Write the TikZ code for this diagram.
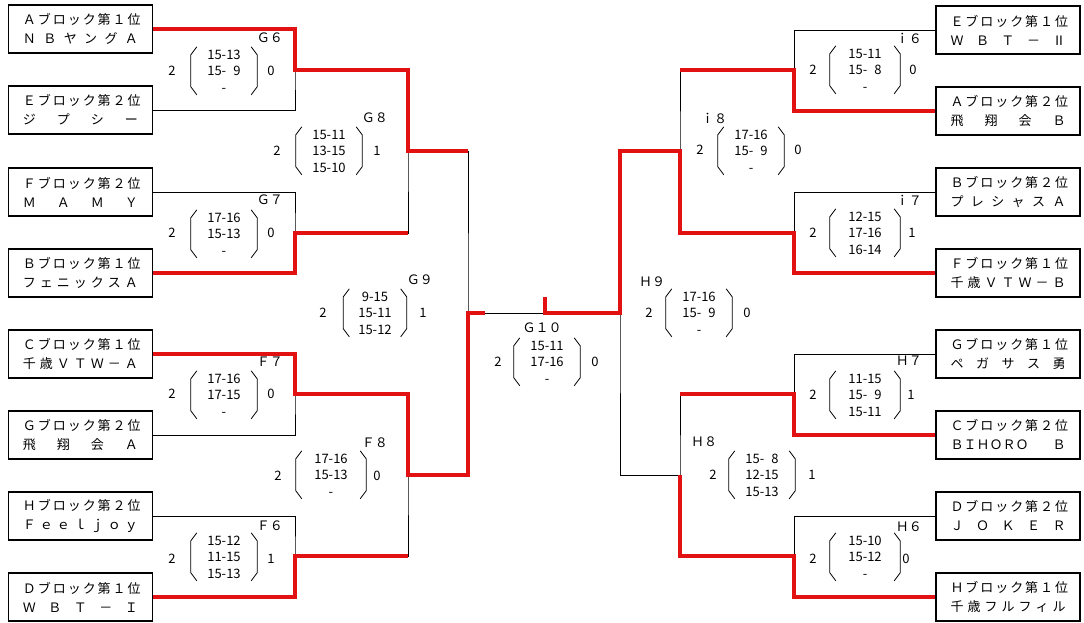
\documentclass[tikz,border=0pt]{standalone}
\usepackage{fontspec}
\setmainfont{Noto Sans CJK JP}
\usetikzlibrary{calc}
\definecolor{winred}{RGB}{226,18,18}
\newcommand{\spread}[1]{\makebox[115pt][s]{#1}}

\begin{document}
\begin{tikzpicture}[x=1pt, y=-1pt, every node/.style={inner sep=0pt},
    team/.style={draw, line width=1.1pt, minimum width=144pt, minimum height=48pt, align=left, font=\fontsize{13}{19}\selectfont},
    lose/.style={line width=0.9pt},
    win/.style={line width=3.8pt, winred},
    scores/.style={minimum width=68pt, minimum height=48pt, align=center, font=\fontsize{13}{16.5}\selectfont},
    paren/.style={line width=0.8pt},
    num/.style={font=\fontsize{13}{13}\selectfont},
    match/.style={font=\fontsize{13}{13}\selectfont}]
            \useasboundingbox (0,0) rectangle (1084,623);

            % left teams
            \node[team] (a1) at (80.5,29)  {\spread{Ａ ブ ロ ッ ク 第 １ 位}\\\spread{Ｎ Ｂ ヤ ン グ Ａ}};
            \node[team] (e2) at (80.5,110) {\spread{Ｅ ブ ロ ッ ク 第 ２ 位}\\\spread{ジ プ シ ー}};
            \node[team] (f2) at (80.5,192) {\spread{Ｆ ブ ロ ッ ク 第 ２ 位}\\\spread{Ｍ Ａ Ｍ Ｙ}};
            \node[team] (b1) at (80.5,273) {\spread{Ｂ ブ ロ ッ ク 第 １ 位}\\\spread{フ ェ ニ ッ ク ス Ａ}};
            \node[team] (c1) at (80.5,354) {\spread{Ｃ ブ ロ ッ ク 第 １ 位}\\\spread{千 歳 Ｖ Ｔ Ｗ － Ａ}};
            \node[team] (g2) at (80.5,435) {\spread{Ｇ ブ ロ ッ ク 第 ２ 位}\\\spread{飛 翔 会 Ａ}};
            \node[team] (h2) at (80.5,516) {\spread{Ｈ ブ ロ ッ ク 第 ２ 位}\\\spread{Ｆ ｅ ｅ ｌ ｊ ｏ ｙ}};
            \node[team] (d1) at (80.5,597) {\spread{Ｄ ブ ロ ッ ク 第 １ 位}\\\spread{Ｗ Ｂ Ｔ － Ｉ}};

            % right teams
            \node[team] (e1) at (1008,30)  {\spread{Ｅ ブ ロ ッ ク 第 １ 位}\\\spread{Ｗ Ｂ Ｔ － Ⅱ}};
            \node[team] (a2) at (1008,111) {\spread{Ａ ブ ロ ッ ク 第 ２ 位}\\\spread{飛 翔 会 Ｂ}};
            \node[team] (b2) at (1008,192) {\spread{Ｂ ブ ロ ッ ク 第 ２ 位}\\\spread{プ レ シ ャ ス Ａ}};
            \node[team] (f1) at (1008,273) {\spread{Ｆ ブ ロ ッ ク 第 １ 位}\\\spread{千 歳 Ｖ Ｔ Ｗ － Ｂ}};
            \node[team] (g1) at (1008,354) {\spread{Ｇ ブ ロ ッ ク 第 １ 位}\\\spread{ペ ガ サ ス 勇}};
            \node[team] (c2) at (1008,435) {\spread{Ｃ ブ ロ ッ ク 第 ２ 位}\\\spread{ＢＩＨＯＲＯ Ｂ}};
            \node[team] (d2) at (1008,516) {\spread{Ｄ ブ ロ ッ ク 第 ２ 位}\\\spread{Ｊ Ｏ Ｋ Ｅ Ｒ}};
            \node[team] (h1) at (1008,597) {\spread{Ｈ ブ ロ ッ ク 第 １ 位}\\\spread{千 歳 フ ル フ ィ ル}};

            % bracket joints
            \coordinate (g6) at (295,70);
            \coordinate (g7) at (295,233);
            \coordinate (f7) at (295,394);
            \coordinate (f6) at (295,556);
            \coordinate (g8) at (408,151);
            \coordinate (f8) at (408,475);
            \coordinate (g9) at (468,313);
            \coordinate (i6) at (794,70);
            \coordinate (i7) at (794,233);
            \coordinate (h7) at (794,394);
            \coordinate (h6) at (794,556);
            \coordinate (i8) at (680,151);
            \coordinate (h8) at (680,475);
            \coordinate (h9) at (620,313);
            \coordinate (g10) at (545,313);
            \coordinate (cup) at (545,297);

            \draw[lose] (a1.east) -| (g6) |- (e2.east);
            \draw[lose] (f2.east) -| (g7) |- (b1.east);
            \draw[lose] (c1.east) -| (f7) |- (g2.east);
            \draw[lose] (h2.east) -| (f6) |- (d1.east);
            \draw[lose] (g6) -| (g8) |- (g7);
            \draw[lose] (f7) -| (f8) |- (f6);
            \draw[lose] (g8) -| (g9) |- (f8);
            \draw[lose] (e1.west) -| (i6) |- (a2.west);
            \draw[lose] (b2.west) -| (i7) |- (f1.west);
            \draw[lose] (g1.west) -| (h7) |- (c2.west);
            \draw[lose] (d2.west) -| (h6) |- (h1.west);
            \draw[lose] (i6) -| (i8) |- (i7);
            \draw[lose] (h7) -| (h8) |- (h6);
            \draw[lose] (i8) -| (h9) |- (h8);
            \draw[lose] (g9) -- (h9);

            % winners
            \draw[win] (a1.east) -| (g6) -| (g8) -- (g8 -| g9);
            \draw[win] (b1.east) -| (g7) -- (g7 -| g8);
            \draw[win] (c1.east) -| (f7) -| (f8) -| (g9) -- ++(17,0);
            \draw[win] (d1.east) -| (f6) -- (f6 -| f8);
            \draw[win] (a2.west) -| (i6) -- (i6 -| i8);
            \draw[win] (f1.west) -| (i7) -| (i8) -| (h9) -- (g10) -- (cup);
            \draw[win] (c2.west) -| (h7) -- (h7 -| h8);
            \draw[win] (h1.west) -| (h6) -| (h8);

            % scores, left
            \node[scores] (g6s) at (224,71) {15-13\\15-\phantom{1}9\\-};
            \node[num] (g6l) at (172,71) {2};
            \node[num] (g6r) at (271,71) {0};
            \node[match, anchor=east] (g6t) at (283,38) {Ｇ６};

            \node[scores] (g7s) at (224,234) {17-16\\15-13\\-};
            \node[num] (g7l) at (172,233) {2};
            \node[num] (g7r) at (271,233) {0};
            \node[match, anchor=east] (g7t) at (283,200) {Ｇ７};

            \node[scores] (f7s) at (224,395) {17-16\\17-15\\-};
            \node[num] (f7l) at (172,394) {2};
            \node[num] (f7r) at (271,394) {0};
            \node[match, anchor=east] (f7t) at (283,362) {Ｆ７};

            \node[scores] (f6s) at (224,557) {15-12\\11-15\\15-13};
            \node[num] (f6l) at (172,559) {2};
            \node[num] (f6r) at (271,559) {1};
            \node[match, anchor=east] (f6t) at (283,526) {Ｆ６};

            \node[scores] (g8s) at (329,151) {15-11\\13-15\\15-10};
            \node[num] (g8l) at (277,151) {2};
            \node[num] (g8r) at (377,151) {1};
            \node[match, anchor=east] (g8t) at (388,118) {Ｇ８};

            \node[scores, minimum width=72pt] (f8s) at (331,475) {17-16\\15-13\\-};
            \node[num] (f8l) at (278,476) {2};
            \node[num] (f8r) at (377,476) {0};
            \node[match, anchor=east] (f8t) at (388,443) {Ｆ８};

            \node[scores, minimum width=65pt] (g9s) at (375,313) {9-15\\15-11\\15-12};
            \node[num] (g9l) at (323,313) {2};
            \node[num] (g9r) at (423,313) {1};
            \node[match, anchor=east] (g9t) at (433,280) {Ｇ９};

            \node[scores] (g10s) at (547,362) {15-11\\17-16\\-};
            \node[num] (g10l) at (498,362) {2};
            \node[num] (g10r) at (595,362) {0};
            \node[match] (g10t) at (542,328) {Ｇ１０};

            % scores, right
            \node[scores] (h9s) at (699,313) {17-16\\15-\phantom{1}9\\-};
            \node[num] (h9l) at (649,313) {2};
            \node[num] (h9r) at (747,313) {0};
            \node[match, anchor=west] (h9t) at (639,282) {Ｈ９};

            \node[scores] (i8s) at (751,151) {17-16\\15-\phantom{1}9\\-};
            \node[num] (i8l) at (700,150) {2};
            \node[num] (i8r) at (798,150) {0};
            \node[match, anchor=west] (i8t) at (701,118) {ｉ８};

            \node[scores] (h8s) at (762,475) {15-\phantom{1}8\\12-15\\15-13};
            \node[num] (h8l) at (713,475) {2};
            \node[num] (h8r) at (812,475) {1};
            \node[match, anchor=west] (h8t) at (691,442) {Ｈ８};

            \node[scores, minimum width=72pt] (i6s) at (865,70) {15-11\\15-\phantom{1}8\\-};
            \node[num] (i6l) at (813,70) {2};
            \node[num] (i6r) at (913,70) {0};
            \node[match, anchor=east] (i6t) at (922,38) {ｉ６};

            \node[scores, minimum width=72pt] (i7s) at (865,233) {12-15\\17-16\\16-14};
            \node[num] (i7l) at (813,233) {2};
            \node[num] (i7r) at (912,233) {1};
            \node[match, anchor=east] (i7t) at (922,200) {ｉ７};

            \node[scores, minimum width=72pt] (h7s) at (865,395) {11-15\\15-\phantom{1}9\\15-11};
            \node[num] (h7l) at (813,395) {2};
            \node[num] (h7r) at (911,395) {1};
            \node[match, anchor=east] (h7t) at (922,361) {Ｈ７};

            \node[scores, minimum width=72pt] (h6s) at (865,557) {15-10\\15-12\\-};
            \node[num] (h6l) at (813,559) {2};
            \node[num] (h6r) at (906,559) {0};
            \node[match, anchor=east] (h6t) at (922,527) {Ｈ６};

            % brackets round the set scores
            \foreach \s in {g6s,g7s,f7s,f6s,g8s,f8s,g9s,g10s,h9s,i8s,h8s,i6s,i7s,h7s,h6s}{
                \draw[paren] (\s.north west) ++(7,0) -- ++(-6,8) -- ++(0,32) -- ++(6,8);
                \draw[paren] (\s.north east) ++(-7,0) -- ++(6,8) -- ++(0,32) -- ++(-6,8);
            }
        \end{tikzpicture}
\end{document}
